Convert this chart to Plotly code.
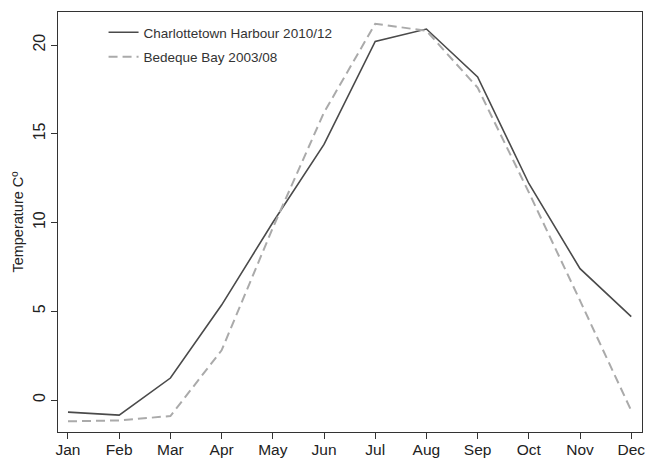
import plotly.graph_objects as go

months = ["Jan", "Feb", "Mar", "Apr", "May", "Jun", "Jul", "Aug", "Sep", "Oct", "Nov", "Dec"]
charlottetown = [-0.68, -0.85, 1.24, 5.35, 10.0, 14.4, 20.2, 20.9, 18.2, 12.2, 7.4, 4.7]
bedeque = [-1.2, -1.15, -0.9, 2.8, 9.7, 16.2, 21.2, 20.8, 17.6, 11.7, 5.6, -0.6]
yticks = [0, 5, 10, 15, 20]

x = list(range(1, 13))
fig = go.Figure()
fig.add_trace(go.Scatter(x=x, y=charlottetown, mode="lines", name="Charlottetown Harbour 2010/12",
                         legendgroup="a", line=dict(color="#4a4a4a", width=1.6)))
fig.add_trace(go.Scatter(x=x, y=bedeque, mode="lines", name="Bedeque Bay 2003/08",
                         legendgroup="b", line=dict(color="#aaaaaa", width=2, dash="9px,5px")))

font = "Liberation Sans, Arial, sans-serif"
fig.update_layout(
    width=648, height=459, autosize=False,
    margin=dict(l=58, r=6, t=12, b=27, pad=0, autoexpand=False),
    paper_bgcolor="white", plot_bgcolor="white",
    font=dict(family=font, size=16, color="#222"),
    showlegend=True,
    legend=dict(x=0.078, y=0.988, xanchor="left", yanchor="top", bgcolor="rgba(0,0,0,0)",
                font=dict(size=13.5, color="#333"), tracegroupgap=4, itemwidth=30),
    xaxis=dict(range=[0.805, 12.21], tickmode="array", tickvals=x, ticktext=months,
               automargin=False, ticklabelstandoff=-3,
               showgrid=False, zeroline=False, showline=True, linecolor="#333", linewidth=1,
               mirror=True, ticks="outside", ticklen=6, tickcolor="#333",
               tickfont=dict(size=15.5, color="#222")),
    yaxis=dict(range=[-1.8, 21.86], tickmode="array", tickvals=yticks,
               automargin=False,
               showgrid=False, zeroline=False, showline=True, linecolor="#333", linewidth=1,
               mirror=True, ticks="outside", ticklen=6, tickcolor="#333", tickangle=-90,
               tickfont=dict(size=16, color="#222"),
               title=dict(text="Temperature Cº", font=dict(size=14.5, color="#222"), standoff=3)),
)
fig.write_html("out.html", config={"displayModeBar": False},
               post_script="document.body.style.margin='0';document.body.style.overflow='hidden';")
